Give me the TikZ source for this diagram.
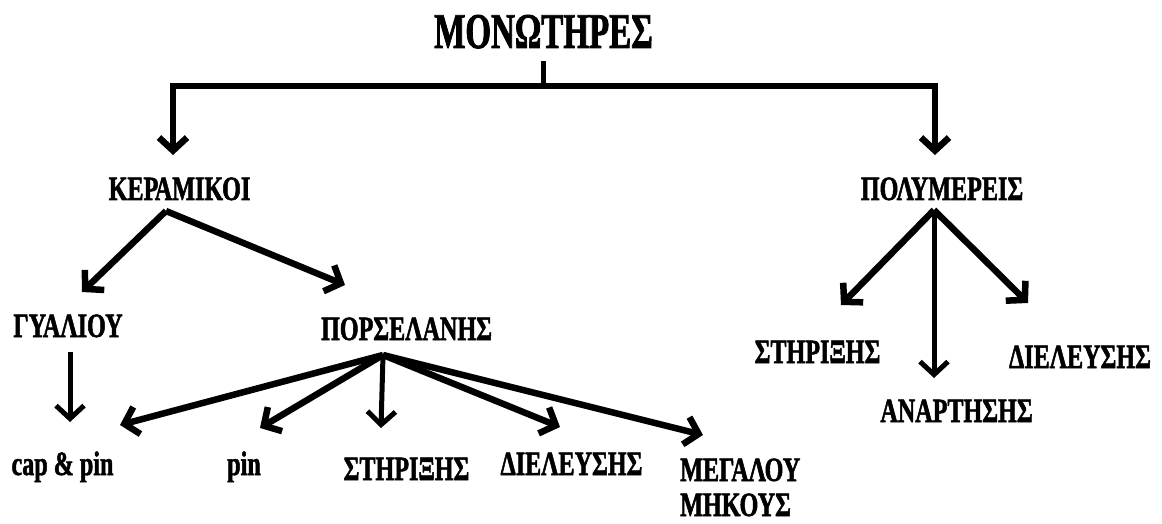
\documentclass[tikz,border=0pt]{standalone}
\usepackage{fontspec}
\setmainfont{Liberation Serif}[FakeStretch=0.71,FakeBold=1.5]
\newfontfamily\titlefont{Liberation Serif}[FakeStretch=0.66,FakeBold=1.5]
\usetikzlibrary{arrows.meta}
\tikzset{
  lbl/.style={font=\bfseries\fontsize{34}{37}\selectfont, inner sep=0pt, anchor=base},
  ttl/.style={font=\titlefont\bfseries\fontsize{50}{54}\selectfont, inner sep=0pt, anchor=base},
  conn/.style={line width=6.5pt, line join=miter, -{Straight Barb[length=13pt,width=28pt]}},
  thinconn/.style={conn, line width=5pt},
}
\begin{document}
\begin{tikzpicture}[x=1pt,y=-1pt]
\useasboundingbox (0,0) rectangle (1162,524);

% labels
\node[ttl] (root) at (543.5,48) {ΜΟΝΩΤΗΡΕΣ};
\node[lbl] (ker) at (179.5,200) {ΚΕΡΑΜΙΚΟΙ};
\node[lbl] (pol) at (942,200) {ΠΟΛΥΜΕΡΕΙΣ};
\node[lbl] (gya) at (68,337) {ΓΥΑΛΙΟΥ};
\node[lbl] (por) at (406.5,340) {ΠΟΡΣΕΛΑΝΗΣ};
\node[lbl] (cap) at (62.5,475) {cap \& pin};
\node[lbl] (pin) at (244,475) {pin};
\node[lbl] (stl) at (406.5,480) {ΣΤΗΡΙΞΗΣ};
\node[lbl] (dil) at (571.5,475) {ΔΙΕΛΕΥΣΗΣ};
\node[lbl, font=\bfseries\fontsize{34}{35}\selectfont, anchor=base west, align=left] (meg) at (680,516) {ΜΕΓΑΛΟΥ\\ΜΗΚΟΥΣ};
\node[lbl] (str) at (817.5,363) {ΣΤΗΡΙΞΗΣ};
\node[lbl] (dir) at (1080,368) {ΔΙΕΛΕΥΣΗΣ};
\node[lbl] (ana) at (956.5,422) {ΑΝΑΡΤΗΣΗΣ};

% branching points and arrow ends
\coordinate (stem) at (543,61);
\coordinate (fork) at (543,86);
\coordinate (kerT) at (173,155);
\coordinate (polT) at (935,155);
\coordinate (kerA) at (166,211);
\coordinate (gyaT) at (82,292);
\coordinate (porT) at (345,285);
\coordinate (gyaA) at (70,352);
\coordinate (capG) at (70,422);
\coordinate (porA) at (383,355);
\coordinate (capT) at (120,425);
\coordinate (pinT) at (260,428);
\coordinate (stlT) at (381,428);
\coordinate (dilT) at (560,427);
\coordinate (megT) at (703,435);
\coordinate (polA) at (934,210);
\coordinate (strT) at (841,305);
\coordinate (anaT) at (934,378);
\coordinate (dirT) at (1028,303);

% top level
\draw[line width=5pt] (stem) -- (fork);
\draw[conn] (fork) -| (kerT);
\draw[conn] (fork) -| (polT);

% ceramic branch
\draw[conn] (kerA) -- (gyaT);
\draw[conn] (kerA) -- (porT);
\draw[thinconn] (gyaA) -- (capG);
\draw[conn] (porA) -- (capT);
\draw[conn] (porA) -- (pinT);
\draw[thinconn] (porA) -- (stlT);
\draw[conn] (porA) -- (dilT);
\draw[conn] (porA) -- (megT);

% polymer branch
\draw[conn] (polA) -- (strT);
\draw[thinconn] (polA) -- (anaT);
\draw[conn] (polA) -- (dirT);
\end{tikzpicture}
\end{document}
